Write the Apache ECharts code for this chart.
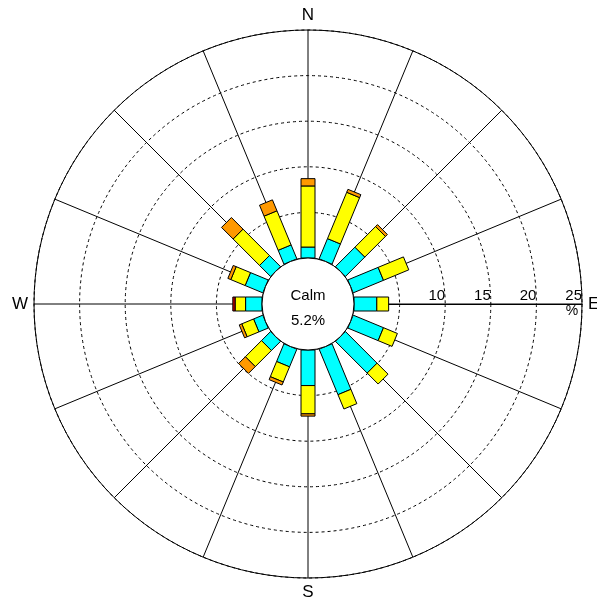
<!DOCTYPE html>
<html>
<head>
<meta charset="utf-8">
<script src="https://cdn.jsdelivr.net/npm/echarts@6/dist/echarts.min.js"></script>
<style>
  html, body { margin: 0; padding: 0; background: #fff; }
  #chart { width: 597px; height: 600px; }
</style>
</head>
<body>
<div id="chart"></div>
<script>
// 16 compass sectors, clockwise from north
const directions = ['N', 'NNE', 'NE', 'ENE', 'E', 'ESE', 'SE', 'SSE',
                    'S', 'SSW', 'SW', 'WSW', 'W', 'WNW', 'NW', 'NNW'];

// frequency (%) of each speed class per direction
const classLow    = [1.2, 2.4, 3.0, 3.6, 2.5, 3.6, 4.9, 5.4, 3.9, 2.1, 1.4, 1.1, 1.8, 2.1, 1.7, 1.65];
const classMid    = [6.7, 5.5, 3.2, 3.0, 1.3, 1.65, 1.7, 1.7, 3.1, 1.8, 2.5, 1.4, 1.15, 1.7, 4.1, 4.05];
const classHigh   = [0.8, 0.35, 0.3, 0.0, 0.0, 0.0, 0.0, 0.0, 0.25, 0.35, 1.05, 0.3, 0.0, 0.35, 1.8, 1.3];
const classTop    = [0.0, 0.0, 0.0, 0.0, 0.0, 0.0, 0.0, 0.0, 0.0, 0.0, 0.0, 0.0, 0.25, 0.0, 0.0, 0.0];

const calmPercent = 5.2;

const radiusTicks = [5, 10, 15, 20, 25];
const cardinalLabels = { 0: 'E', 90: 'S', 180: 'W', 270: 'N' };

const classColors = ['#00FFFF', '#FFFF00', '#FF9900', '#CC0000'];
const classes = [classLow, classMid, classHigh, classTop];

const FONT = '"Liberation Sans", Arial, sans-serif';

// compass bearing -> angle-axis value (axis starts at east, runs clockwise)
function bearingToAxis(i) {
  return ((i * 22.5) - 90 + 360) % 360;
}

// build stacked [angle, base, top] rows for each class
const cumulative = directions.map(() => 0);
const stackedData = classes.map(values => values.map((v, i) => {
  const base = cumulative[i];
  cumulative[i] += v;
  return [bearingToAxis(i), base, cumulative[i]];
}));

const BAR_HALF_WIDTH = 7;

function renderBar(params, api) {
  const ang = api.value(0);
  const r1 = api.value(1);
  const r2 = api.value(2);
  if (r2 - r1 <= 0) return null;
  const cs = params.coordSys;
  const p1 = api.coord([r1, ang]);
  const p2 = api.coord([r2, ang]);
  const dx = p2[0] - cs.cx, dy = p2[1] - cs.cy;
  const len = Math.sqrt(dx * dx + dy * dy);
  const ux = dx / len, uy = dy / len;
  const nx = -uy * BAR_HALF_WIDTH, ny = ux * BAR_HALF_WIDTH;
  return {
    type: 'polygon',
    shape: {
      points: [
        [p1[0] + nx, p1[1] + ny],
        [p2[0] + nx, p2[1] + ny],
        [p2[0] - nx, p2[1] - ny],
        [p1[0] - nx, p1[1] - ny]
      ]
    },
    style: {
      fill: api.visual('color'),
      stroke: '#000',
      lineWidth: 1
    }
  };
}

function renderCalm(params, api) {
  const cs = params.coordSys;
  return {
    type: 'group',
    children: [
      {
        type: 'circle',
        shape: { cx: cs.cx, cy: cs.cy, r: cs.r0 },
        style: { fill: '#fff', stroke: '#000', lineWidth: 1 }
      },
      {
        type: 'text',
        x: cs.cx, y: cs.cy - 8,
        style: {
          text: 'Calm',
          fill: '#000',
          font: '15px ' + FONT,
          align: 'center',
          verticalAlign: 'middle'
        }
      },
      {
        type: 'text',
        x: cs.cx, y: cs.cy + 17,
        style: {
          text: api.value(0) + '%',
          fill: '#000',
          font: '15px ' + FONT,
          align: 'center',
          verticalAlign: 'middle'
        }
      }
    ]
  };
}

const chart = echarts.init(document.getElementById('chart'), null, { renderer: 'canvas' });

const series = stackedData.map((data, k) => ({
  type: 'custom',
  coordinateSystem: 'polar',
  renderItem: renderBar,
  itemStyle: { color: classColors[k] },
  encode: { angle: 0, radius: 2 },
  data: data,
  z: 3,
  animation: false,
  silent: true
}));

series.push({
  type: 'custom',
  coordinateSystem: 'polar',
  renderItem: renderCalm,
  encode: { radius: 0 },
  data: [[calmPercent]],
  z: 5,
  animation: false,
  silent: true
});

chart.setOption({
  animation: false,
  backgroundColor: '#fff',
  polar: {
    center: [308, 304],
    radius: [46, 274]
  },
  angleAxis: {
    type: 'value',
    min: 0,
    max: 360,
    interval: 22.5,
    startAngle: 0,
    clockwise: true,
    axisLine: { show: true, lineStyle: { color: '#000', width: 1 } },
    axisTick: { show: false },
    splitLine: { show: true, lineStyle: { color: '#000', width: 1, type: 'solid' } },
    axisLabel: {
      show: true,
      margin: 6,
      color: '#000',
      fontFamily: FONT,
      fontSize: 17,
      formatter: v => (v < 360 && cardinalLabels[v]) ? cardinalLabels[v] : ''
    }
  },
  radiusAxis: {
    type: 'value',
    min: 0,
    max: radiusTicks[radiusTicks.length - 1],
    interval: radiusTicks[1] - radiusTicks[0],
    axisLine: { show: true, lineStyle: { color: '#000', width: 1 } },
    axisTick: { show: false },
    splitLine: { show: true, lineStyle: { color: '#000', width: 1, type: [3, 3] } },
    axisLabel: {
      show: true,
      color: '#000',
      fontFamily: FONT,
      fontSize: 15,
      align: 'right',
      verticalAlign: 'bottom',
      margin: 1,
      formatter: v => (v >= 10 ? String(v) : '')
    },
    name: '%',
    nameLocation: 'end',
    nameGap: -10,
    nameTextStyle: {
      color: '#000',
      fontFamily: FONT,
      fontSize: 14,
      verticalAlign: 'top',
      align: 'center'
    }
  },
  series: series
});
</script>
</body>
</html>
